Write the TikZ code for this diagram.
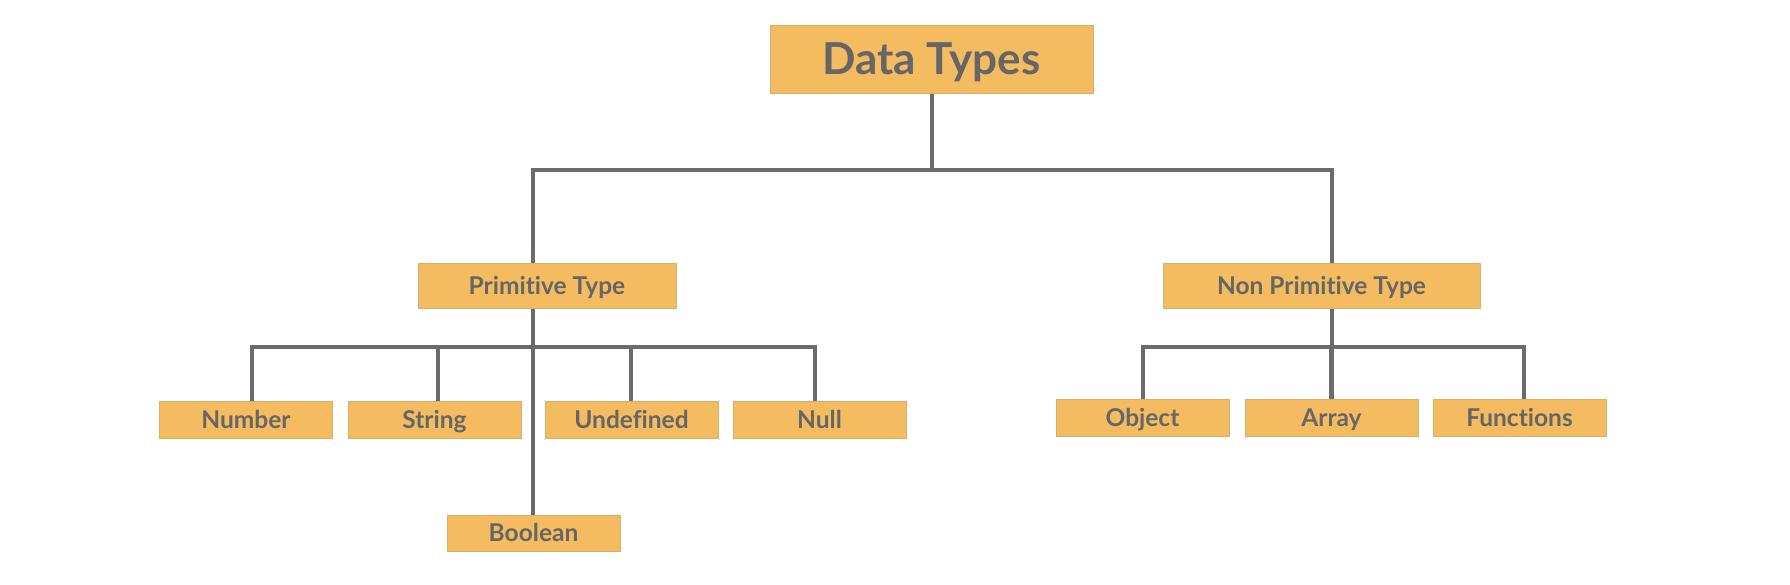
\documentclass[tikz,border=0pt]{standalone}
\usepackage{fontspec}
\setmainfont{Lato}[Ligatures={NoCommon}]
\definecolor{boxfill}{HTML}{F4BB61}
\definecolor{boxline}{HTML}{D6AE6E}
\definecolor{linec}{HTML}{6B6B6B}
\definecolor{textc}{HTML}{666666}
\tikzset{
  box/.style={draw=boxline, line width=1pt, fill=boxfill, inner sep=0pt,
    text=textc, font=\fontsize{24.5}{28}\selectfont\bfseries,
    text height=17.5pt, text depth=0pt},
  small/.style={box, minimum width=173pt, minimum height=37pt},
  mid/.style={box, minimum height=45pt},
  conn/.style={draw=linec, line width=3.5pt, line join=miter}
}
\begin{document}
\begin{tikzpicture}[x=1pt, y=-1pt]
\useasboundingbox (0,0) rectangle (1790,584);
% nodes
\node[box, minimum width=323pt, minimum height=68pt, font=\fontsize{44}{50}\selectfont\bfseries, text height=31.7pt] (dt) at (931.5,59) {Data Types};
\node[mid, minimum width=258pt] (prim) at (547,285.5) {Primitive Type};
\node[mid, minimum width=317pt] (nonp) at (1321.5,285.5) {Non Primitive Type};
\node[small] (number) at (246,419.5) {Number};
\node[small] (string) at (434.5,419.5) {String};
\node[small] (undef) at (631.5,419.5) {Undefined};
\node[small] (null) at (819.5,419.5) {Null};
\node[small, minimum height=36pt] (bool) at (533.5,533) {Boolean};
\node[small] (object) at (1142.5,417.5) {Object};
\node[small] (array) at (1331.5,417.5) {Array};
\node[small] (func) at (1519.5,417.5) {Functions};
% junctions
\coordinate (j1) at (932,170);
\coordinate (j2) at (533,347);
\coordinate (j3) at (1332,347);
\coordinate (pt) at ([xshift=-14pt]prim.north);
\coordinate (pb) at ([xshift=-14pt]prim.south);
\coordinate (nt) at ([xshift=10.5pt]nonp.north);
\coordinate (nb) at ([xshift=10.5pt]nonp.south);
\coordinate (cn) at ([xshift=6pt]number.north);
\coordinate (cs) at ([xshift=3.5pt]string.north);
\coordinate (cu) at ([xshift=-0.5pt]undef.north);
\coordinate (cl) at ([xshift=-4.5pt]null.north);
\coordinate (co) at ([xshift=0.5pt]object.north);
\coordinate (ca) at ([xshift=-0.5pt]array.north);
\coordinate (cf) at ([xshift=4.5pt]func.north);
% connectors
\draw[conn] (j1 |- dt.south) -- (j1);
\draw[conn] (pt) |- (j1) -| (nt);
\draw[conn] (cn) |- (j2) -| (cl);
\draw[conn] (pb) -- (pb |- bool.north);
\draw[conn] (cs) -- (cs |- j2);
\draw[conn] (cu) -- (cu |- j2);
\draw[conn] (co) |- (j3) -| (cf);
\draw[conn] (nb) -- (nb |- array.north);
\draw[conn] (ca) -- (ca |- j3);
\end{tikzpicture}
\end{document}
